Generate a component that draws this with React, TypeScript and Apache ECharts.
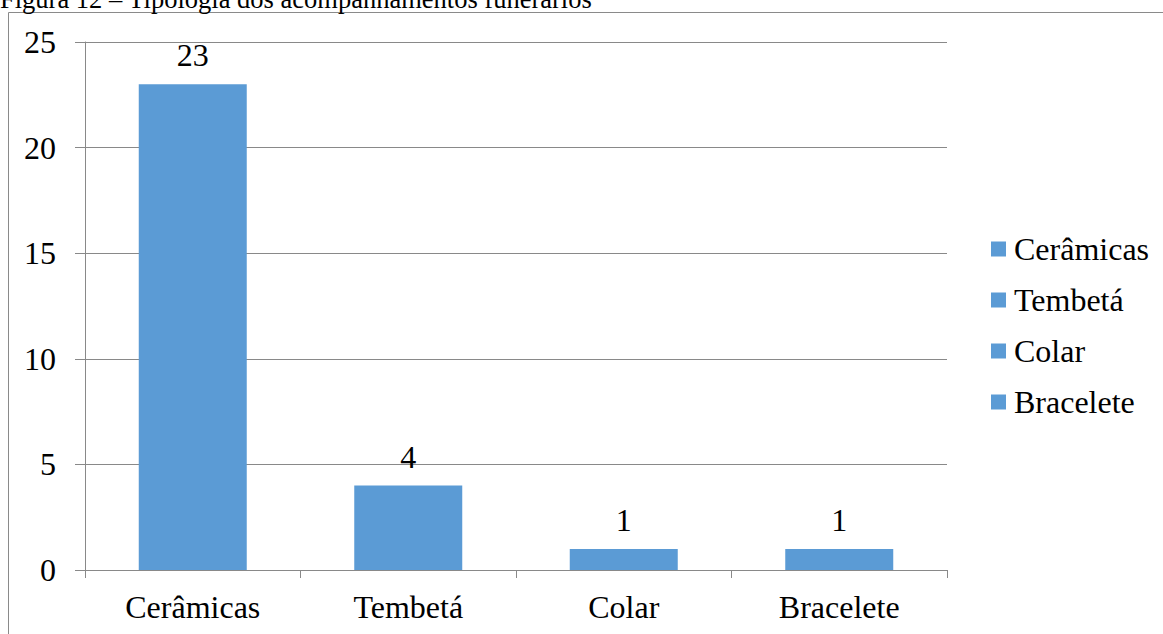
import React, { useEffect, useRef } from "react";
import * as echarts from "echarts";

const titleText = "Figura 12 – Tipologia dos acompanhamentos funerários";
const categories = ["Cerâmicas", "Tembetá", "Colar", "Bracelete"];
const values = [23, 4, 1, 1];
const yTicks = { min: 0, max: 25, interval: 5 };

const FONT = "Liberation Serif";
const BAR = "#5B9BD5";
const GRID = "#898989";
const FS = 32;

export default function App() {
  const ref = useRef<HTMLDivElement>(null);
  useEffect(() => {
    if (!ref.current) return;
    const chart = echarts.init(ref.current, undefined, { renderer: "svg" });
    const series = categories.map((c, i) => ({
      name: c,
      type: "bar",
      stack: "total",
      barWidth: 108,
      itemStyle: { color: BAR },
      label: {
        show: true,
        position: "top",
        distance: 13,
        fontFamily: FONT,
        fontSize: FS,
        color: "#000",
      },
      data: values.map((v, j) => (j === i ? v : "-")),
    }));
    chart.setOption({
      animation: false,
      backgroundColor: "#fff",
      textStyle: { fontFamily: FONT },
      graphic: [
        {
          type: "rect",
          shape: { x: 8.5, y: 12.5, width: 3000, height: 3000 },
          style: { fill: "none", stroke: "#8a8a8a", lineWidth: 1 },
          silent: true,
        },
        {
          type: "text",
          x: 0,
          y: -1,
          style: {
            text: titleText,
            fontFamily: FONT,
            fontSize: 26.5,
            fill: "#000",
            verticalAlign: "middle",
            align: "left",
          },
        },
      ],
      grid: { left: 85, right: 216, top: 42, bottom: 64, containLabel: false },
      legend: {
        orient: "vertical",
        left: 986,
        top: 228,
        itemWidth: 15,
        itemHeight: 15,
        itemGap: 19,
        icon: "rect",
        data: categories,
        textStyle: { fontFamily: FONT, fontSize: FS, color: "#000", padding: [0, 0, 0, 3] },
      },
      xAxis: {
        type: "category",
        data: categories,
        axisLine: { show: true, lineStyle: { color: GRID, width: 1 } },
        axisTick: { show: true, length: 8, alignWithLabel: false, lineStyle: { color: GRID } },
        axisLabel: { margin: 21, fontFamily: FONT, fontSize: FS, color: "#000" },
      },
      yAxis: {
        type: "value",
        min: yTicks.min,
        max: yTicks.max,
        interval: yTicks.interval,
        axisLine: { show: true, lineStyle: { color: GRID, width: 1 } },
        axisTick: { show: true, length: 10, lineStyle: { color: GRID } },
        splitLine: { show: true, lineStyle: { color: GRID, width: 1 } },
        axisLabel: { margin: 29, fontFamily: FONT, fontSize: FS, color: "#000" },
      },
      series,
    });
    return () => chart.dispose();
  }, []);
  return (
    <div
      ref={ref}
      style={{ position: "absolute", left: 0, top: 0, width: 1163, height: 634 }}
    />
  );
}
